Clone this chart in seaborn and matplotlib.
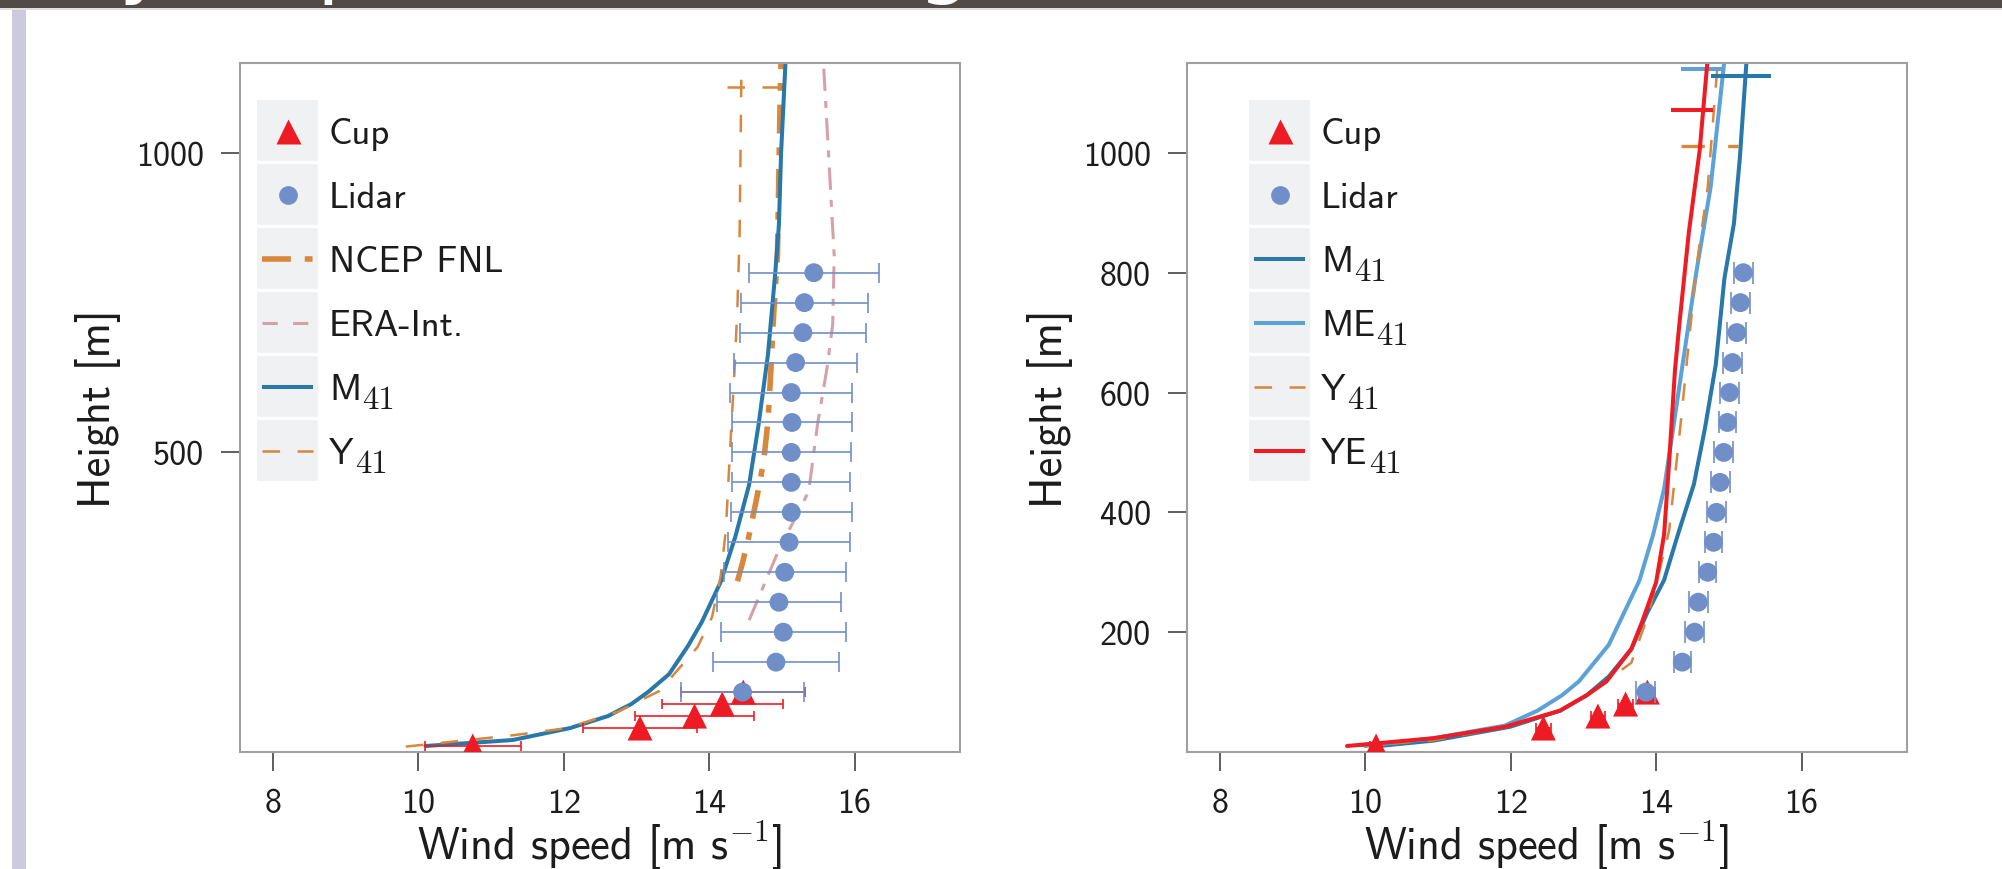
import matplotlib
matplotlib.use('Agg')
import matplotlib.pyplot as plt
from matplotlib.patches import Rectangle
import seaborn as sns

# ---------------- data ----------------
# measurement heights [m]
lidar_h = [100, 150, 200, 250, 300, 350, 400, 450, 500, 550, 600, 650, 700, 750, 800]
cup_h = [10, 40, 60, 80, 100]

# left panel: all conditions
lidar_ws_a = [14.46, 14.92, 15.02, 14.96, 15.04, 15.10, 15.13, 15.13, 15.13, 15.14, 15.13, 15.19, 15.29, 15.31, 15.44]
lidar_sd_a = [0.85, 0.86, 0.86, 0.85, 0.84, 0.84, 0.83, 0.81, 0.82, 0.83, 0.84, 0.85, 0.87, 0.87, 0.89]
cup_ws_a = [10.75, 13.05, 13.80, 14.18, 14.47]
cup_sd_a = [0.66, 0.78, 0.82, 0.83, 0.85]

m41_h_a = [10, 20, 40, 60, 80, 100, 130, 177, 217, 284, 359, 446, 546, 664, 800, 880, 1000, 1200]
m41_ws_a = [10.10, 11.30, 12.09, 12.61, 12.93, 13.16, 13.45, 13.71, 13.90, 14.16, 14.36, 14.55, 14.68, 14.81, 14.91, 14.96, 14.99, 15.07]
y41_h_a = [9, 28, 40, 67, 102, 175, 225, 294, 370, 485, 638, 745, 867, 1200]
y41_ws_a = [9.83, 11.31, 12.05, 12.74, 13.32, 13.84, 14.04, 14.16, 14.23, 14.28, 14.35, 14.39, 14.42, 14.45]
ncep_h = [285, 316, 362, 439, 485, 553, 638, 714, 829, 1112, 1200]
ncep_ws = [14.39, 14.46, 14.55, 14.68, 14.75, 14.81, 14.85, 14.88, 14.94, 14.98, 15.00]
era_h = [220, 332, 435, 546, 640, 714, 829, 960, 1200]
era_ws = [14.55, 14.94, 15.37, 15.49, 15.62, 15.70, 15.72, 15.66, 15.55]
y41_top_a = (1110, 14.25, 14.98)  # height, speed from, speed to

# right panel
lidar_ws_b = [13.86, 14.36, 14.53, 14.58, 14.71, 14.79, 14.83, 14.88, 14.93, 14.98, 15.01, 15.05, 15.11, 15.16, 15.20]
lidar_sd_b = [0.13, 0.12, 0.13, 0.13, 0.12, 0.12, 0.13, 0.13, 0.13, 0.12, 0.13, 0.13, 0.13, 0.13, 0.13]
cup_ws_b = [10.15, 12.45, 13.20, 13.58, 13.88]
cup_sd_b = [0.08, 0.10, 0.10, 0.10, 0.10]

m41_h_b = [10, 19, 42, 69, 95, 126, 172, 233, 287, 363, 447, 539, 646, 791, 882, 989, 1200]
m41_ws_b = [10.19, 10.94, 11.99, 12.68, 13.05, 13.35, 13.66, 13.88, 14.11, 14.30, 14.52, 14.67, 14.82, 14.94, 15.07, 15.15, 15.27]
me41_h = [10, 23, 44, 69, 95, 118, 179, 286, 363, 439, 561, 684, 806, 943, 1200]
me41_ws = [10.00, 10.94, 11.92, 12.37, 12.71, 12.94, 13.35, 13.77, 13.96, 14.11, 14.26, 14.41, 14.56, 14.75, 14.98]
y41_h_b = [10, 19, 42, 69, 95, 149, 225, 294, 370, 539, 684, 814, 943, 1200]
y41_ws_b = [9.90, 10.90, 11.95, 12.66, 13.05, 13.66, 13.88, 14.03, 14.18, 14.33, 14.45, 14.56, 14.71, 14.88]
ye41_h = [10, 23, 42, 69, 95, 118, 172, 218, 283, 363, 485, 638, 714, 867, 1005, 1200]
ye41_ws = [9.75, 10.94, 11.92, 12.68, 13.05, 13.32, 13.66, 13.81, 14.00, 14.11, 14.18, 14.26, 14.32, 14.45, 14.60, 14.74]
tops_b = {'M41': (1128, 14.75, 15.58), 'ME41': (1140, 14.34, 14.93),
          'YE41': (1072, 14.20, 14.78), 'Y41': (1012, 14.34, 15.12)}

xticks = [8, 10, 12, 14, 16]
yticks_a = [500, 1000]
yticks_b = [200, 400, 600, 800, 1000]

# ---------------- style ----------------
c_cup = '#ed1c24'
c_lidar = '#708fc8'
c_m41 = '#2878a9'
c_me41 = '#5ca2d6'
c_orange = '#d8873b'
c_era = '#d4a1a8'
c_ye41 = '#ee1c25'
dash_y41 = (0, (7, 7))
dash_ncep = (0, (5.2, 2.5, 1.4, 2.5))
dash_era = (0, (7.3, 3.3, 2.3, 3.3))

sns.set_style('ticks')
plt.rcParams['font.family'] = ['cmss10', 'DejaVu Sans']
plt.rcParams['mathtext.fontset'] = 'cm'
plt.rcParams['axes.unicode_minus'] = False
text_c = '#1c1c1c'

fig = plt.figure(figsize=(20.02, 8.70), dpi=100)
W, H = 2002, 870
AX_W, AX_H, AX_B = 720, 689, 753

# slide decoration: dark banner and lavender side bar
fig.patches.append(Rectangle((0, 1 - 9 / H), 1, 9 / H, transform=fig.transFigure,
                             facecolor='#524a47', edgecolor='none'))
fig.patches.append(Rectangle((0, 1 - 10.5 / H), 1, 1.5 / H, transform=fig.transFigure,
                             facecolor='#dedede', edgecolor='none'))
fig.patches.append(Rectangle((12 / W, 0), 14 / W, 1 - 10.5 / H, transform=fig.transFigure,
                             facecolor='#cbcbdd', edgecolor='none'))
for xp, ch in [(143, 'y'), (343, 'p'), (944, 'g')]:
    fig.text(xp / W, 1 + 12 / H, ch, color='white', fontsize=60, ha='center',
             va='baseline', family='DejaVu Sans')


def make_axes(left_px):
    ax = fig.add_axes([left_px / W, (H - AX_B) / H, AX_W / W, AX_H / H])
    ax.set_xlim(7.55, 17.45)
    ax.set_ylim(0, 1150)
    ax.set_xticks(xticks)
    for sp in ax.spines.values():
        sp.set_color('#a0a0a0')
        sp.set_linewidth(1.5)
    ax.tick_params(direction='out', length=14, width=1.1, color='#333333',
                   labelsize=24.5, labelcolor=text_c, pad=12)
    ax.set_xlabel('Wind speed [m s$^{-1}$]', fontsize=32, color=text_c, va='top')
    ax.xaxis.set_label_coords(0.5, (AX_B - 820) / AX_H)
    ax.set_ylabel('Height [m]', fontsize=32, color=text_c)
    return ax


def line(ax, ws, h, color, lw, ls='-', z=2):
    sns.lineplot(x=ws, y=h, sort=False, estimator=None, ax=ax, color=color,
                 lw=lw, linestyle=ls, zorder=z)


def obs(ax, ws, h, sd, marker, color, size, capsize, z):
    ax.errorbar(ws, h, xerr=sd, fmt='none', ecolor=color, elinewidth=1.2,
                capsize=capsize, capthick=1.2, zorder=z)
    sns.scatterplot(x=ws, y=h, marker=marker, s=size, color=color,
                    edgecolor='none', linewidth=0, ax=ax, zorder=z + 0.5, legend=False)


def legend(ax, left_px, box_x0, entries):
    for i, (lab, sub, kind) in enumerate(entries):
        cy = 131.5 + 64 * i
        bx0, bx1 = box_x0 - left_px, box_x0 + 61 - left_px
        ax.add_patch(Rectangle((bx0 / AX_W, (AX_B - cy - 30.5) / AX_H), 61 / AX_W, 61 / AX_H,
                               transform=ax.transAxes, facecolor='#f0f1f3',
                               edgecolor='none', zorder=6, clip_on=False))
        fy = (AX_B - cy) / AX_H
        if kind[0] == 'm':
            ax.plot([(bx0 + bx1) / 2 / AX_W], [fy], marker=kind[1], ms=kind[3],
                    color=kind[2], mec='none', ls='none', transform=ax.transAxes,
                    zorder=7, clip_on=False)
        else:
            ax.plot([(bx0 + 5) / AX_W, (bx1 - 5) / AX_W], [fy, fy], color=kind[1],
                    lw=kind[2], ls=kind[3], transform=ax.transAxes, zorder=7,
                    clip_on=False, solid_capstyle='butt', dash_capstyle='butt')
        ty = (AX_B - cy - 12.8) / AX_H
        t = ax.text((bx1 + 11) / AX_W, ty, lab, transform=ax.transAxes,
                    fontsize=26.5, color=text_c, va='baseline', ha='left', zorder=7)
        if sub:
            # subscript index in roman digits, as in the slide
            ax.annotate(sub, xy=(1, ty), xycoords=(t, 'axes fraction'),
                        xytext=(1, -6.5), textcoords='offset points', fontsize=23.5,
                        family='cmr10', color=text_c, va='baseline', ha='left',
                        zorder=7, annotation_clip=False)


# ---------------- left panel ----------------
L1 = 240
ax1 = make_axes(L1)
ax1.set_yticks(yticks_a)
line(ax1, era_ws, era_h, c_era, 2.2, dash_era, 2)
line(ax1, ncep_ws, ncep_h, c_orange, 4.0, dash_ncep, 2.1)
line(ax1, m41_ws_a, m41_h_a, c_m41, 2.9, '-', 2.2)
line(ax1, y41_ws_a, y41_h_a, c_orange, 1.8, dash_y41, 2.3)
ax1.hlines(y41_top_a[0], y41_top_a[1], y41_top_a[2], colors=c_orange, lw=1.8,
           linestyles=[dash_y41], zorder=2.3)
obs(ax1, cup_ws_a, cup_h, cup_sd_a, '^', c_cup, 324, 3.6, 3)
obs(ax1, lidar_ws_a, lidar_h, lidar_sd_a, 'o', c_lidar, 185, 7.5, 4)
ax1.yaxis.set_label_coords((121 - L1) / AX_W, 0.5)
legend(ax1, L1, 257, [('Cup', '', ('m', '^', c_cup, 18)),
                      ('Lidar', '', ('m', 'o', c_lidar, 13.5)),
                      ('NCEP FNL', '', ('l', c_orange, 4.0, dash_ncep)),
                      ('ERA-Int.', '', ('l', c_era, 2.2, (0, (5, 5)))),
                      ('M', '41', ('l', c_m41, 2.9, '-')),
                      ('Y', '41', ('l', c_orange, 1.8, dash_y41))])

# ---------------- right panel ----------------
L2 = 1187
ax2 = make_axes(L2)
ax2.set_yticks(yticks_b)
line(ax2, m41_ws_b, m41_h_b, c_m41, 2.9, '-', 2)
line(ax2, me41_ws, me41_h, c_me41, 2.9, '-', 2.1)
line(ax2, y41_ws_b, y41_h_b, c_orange, 1.8, dash_y41, 2.2)
line(ax2, ye41_ws, ye41_h, c_ye41, 2.9, '-', 2.3)
for key, col, lw, ls in [('M41', c_m41, 2.9, '-'), ('ME41', c_me41, 2.9, '-'),
                         ('YE41', c_ye41, 2.9, '-'), ('Y41', c_orange, 2.4, dash_y41)]:
    hh, x0, x1 = tops_b[key]
    ax2.hlines(hh, x0, x1, colors=col, lw=lw, linestyles=[ls], zorder=2.2)
obs(ax2, cup_ws_b, cup_h, cup_sd_b, '^', c_cup, 324, 3.6, 3)
obs(ax2, lidar_ws_b, lidar_h, lidar_sd_b, 'o', c_lidar, 185, 8, 4)
ax2.yaxis.set_label_coords((1073 - L2) / AX_W, 0.5)
legend(ax2, L2, 1249, [('Cup', '', ('m', '^', c_cup, 18)),
                       ('Lidar', '', ('m', 'o', c_lidar, 13.5)),
                       ('M', '41', ('l', c_m41, 2.9, '-')),
                       ('ME', '41', ('l', c_me41, 2.9, '-')),
                       ('Y', '41', ('l', c_orange, 1.8, dash_y41)),
                       ('YE', '41', ('l', c_ye41, 2.9, '-'))])

fig.savefig('out.png', dpi=100)
